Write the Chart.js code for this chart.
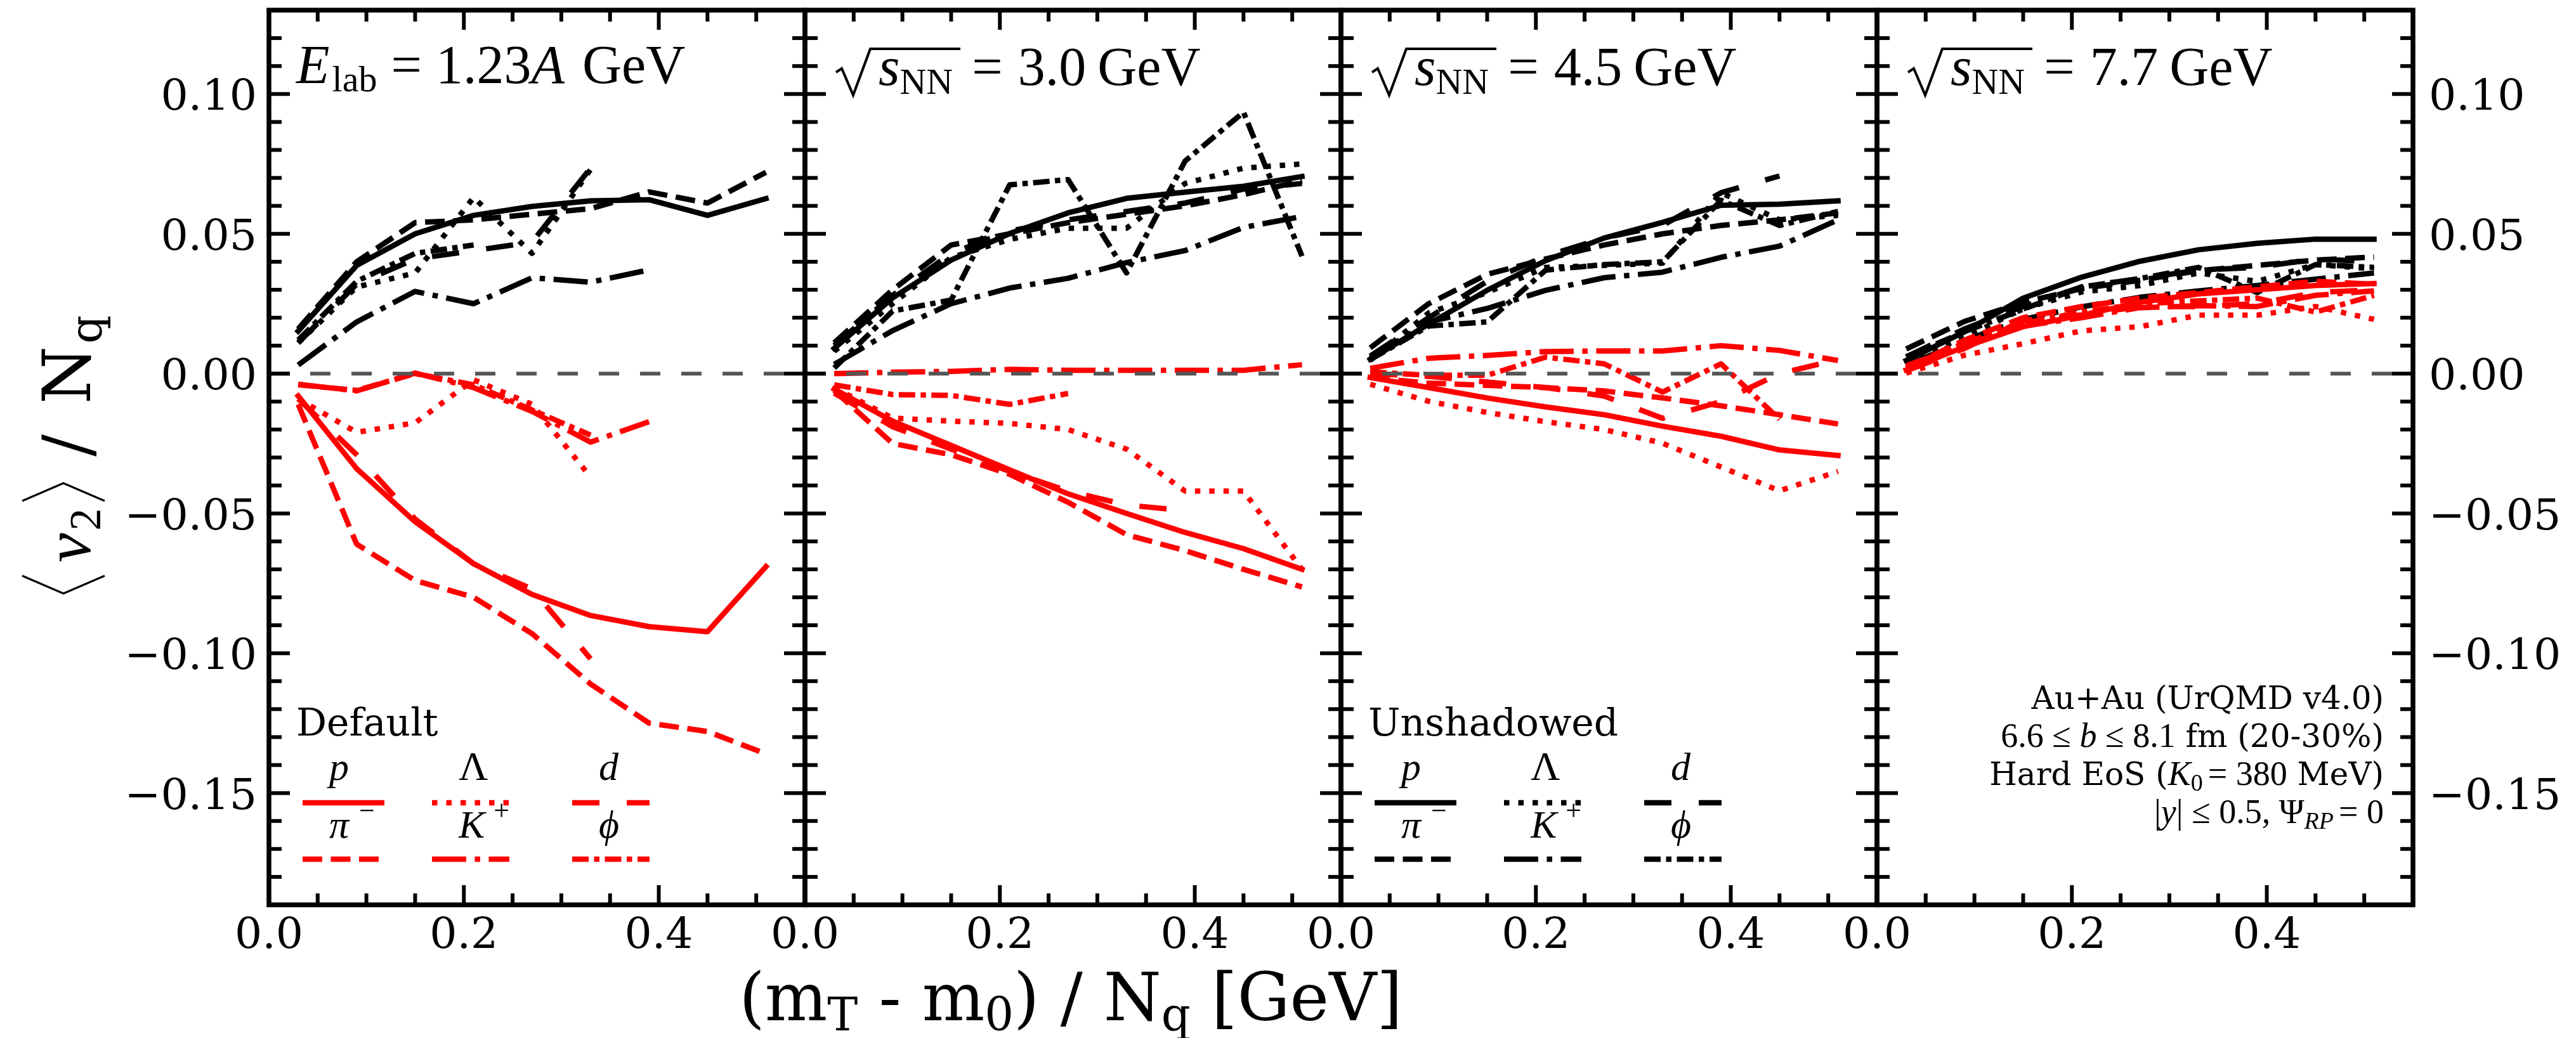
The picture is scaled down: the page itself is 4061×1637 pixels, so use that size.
<!DOCTYPE html>
<html>
<head>
<meta charset="utf-8">
<script src="https://cdn.jsdelivr.net/npm/chart.js@4.4.1/dist/chart.umd.min.js"></script>
<style>
  html, body { margin: 0; padding: 0; background: #fff; }
  #fig { position: relative; width: 4061px; height: 1637px; background: #fff; }
  #fig canvas { position: absolute; left: 0; top: 0; }
</style>
</head>
<body>
<div id="fig">
  <canvas id="c0" width="4061" height="1637"></canvas>
  <canvas id="c1" width="4061" height="1637"></canvas>
  <canvas id="c2" width="4061" height="1637"></canvas>
  <canvas id="c3" width="4061" height="1637"></canvas>
</div>
<script>
// (mT - m0)/Nq bin centres [GeV]
const mtBins = [0.03, 0.09, 0.15, 0.21, 0.27, 0.33, 0.39, 0.45, 0.51];

// order of every block below: p, pi-, Lambda, K+, d, phi
const species = ['p', 'π⁻', 'Λ', 'K⁺', 'd', 'ϕ'];
const energies = ['1.23A', '3.0', '4.5', '7.7'];

// Elab = 1.23A GeV
const def123 = [
  [-0.008, -0.034, -0.053, -0.068, -0.079, -0.0865, -0.0905, -0.0923, -0.069],
  [-0.011, -0.061, -0.074, -0.080, -0.093, -0.111, -0.125, -0.128, -0.136],
  [-0.009, -0.021, -0.0176, -0.0022, -0.011, -0.037],
  [-0.0038, -0.0062, 0.0002, -0.005, -0.0135, -0.0245, -0.0172],
  [-0.009, -0.029, -0.052, -0.068, -0.077, -0.102],
  [-0.004, -0.006, 0.000, -0.004, -0.013, -0.022]
];
const uns123 = [
  [0.0152, 0.0387, 0.050, 0.0566, 0.0598, 0.0618, 0.0622, 0.0566, 0.0626],
  [0.016, 0.040, 0.054, 0.055, 0.057, 0.059, 0.065, 0.061, 0.072],
  [0.011, 0.031, 0.036, 0.063, 0.043, 0.073],
  [0.0031, 0.0185, 0.0294, 0.025, 0.0343, 0.0327, 0.0371],
  [0.011, 0.032, 0.041, 0.044, 0.047, 0.0735],
  [0.012, 0.033, 0.043, 0.046]
];

// sqrt(sNN) = 3.0 GeV
const def30 = [
  [-0.0055, -0.017, -0.0257, -0.0344, -0.043, -0.050, -0.0568, -0.0626, -0.070],
  [-0.006, -0.025, -0.029, -0.036, -0.046, -0.0576, -0.0633, -0.070, -0.0763],
  [-0.005, -0.0159, -0.017, -0.0178, -0.020, -0.027, -0.042, -0.042, -0.070],
  [0.000, 0.0005, 0.0008, 0.0015, 0.0012, 0.0012, 0.0012, 0.0012, 0.0032],
  [-0.007, -0.019, -0.027, -0.035, -0.042, -0.047, -0.049],
  [-0.004, -0.0075, -0.0078, -0.011, -0.0071]
];
const uns30 = [
  [0.009, 0.0271, 0.0406, 0.0501, 0.0575, 0.0627, 0.0649, 0.0670, 0.0705],
  [0.011, 0.030, 0.046, 0.050, 0.054, 0.057, 0.060, 0.064, 0.069],
  [0.008, 0.025, 0.0415, 0.048, 0.052, 0.052, 0.068, 0.0735, 0.075],
  [0.0033, 0.0154, 0.025, 0.0306, 0.0341, 0.0397, 0.044, 0.0523, 0.0562],
  [0.010, 0.028, 0.043, 0.051, 0.055, 0.058, 0.061, 0.066, 0.068],
  [0.002, 0.0224, 0.0263, 0.0675, 0.0694, 0.036, 0.076, 0.0935, 0.042]
];

// sqrt(sNN) = 4.5 GeV
const def45 = [
  [-0.0014, -0.005, -0.0087, -0.0119, -0.0147, -0.0188, -0.0224, -0.0273, -0.0293],
  [-0.0014, -0.0034, -0.0042, -0.005, -0.0062, -0.0087, -0.0115, -0.0147, -0.018],
  [-0.0038, -0.0099, -0.0139, -0.0172, -0.020, -0.0249, -0.0334, -0.0419, -0.035],
  [0.0019, 0.0055, 0.0065, 0.0079, 0.0081, 0.0081, 0.010, 0.0083, 0.0047],
  [0.000, -0.001, -0.003, -0.005, -0.008, -0.016, -0.010, 0.000, 0.005],
  [0.0006, -0.0006, -0.0006, 0.0059, 0.0035, -0.0066, 0.0035, -0.0164]
];
const uns45 = [
  [0.0051, 0.0177, 0.0298, 0.0404, 0.0485, 0.0541, 0.0602, 0.0606, 0.0618],
  [0.0092, 0.025, 0.0355, 0.041, 0.046, 0.050, 0.053, 0.055, 0.0575],
  [0.0047, 0.0217, 0.029, 0.038, 0.0387, 0.0395, 0.0647, 0.055, 0.0566],
  [0.0055, 0.0185, 0.0233, 0.0298, 0.0343, 0.0363, 0.0416, 0.0456, 0.055],
  [0.0063, 0.020, 0.033, 0.042, 0.0485, 0.053, 0.0647, 0.0707],
  [0.005, 0.017, 0.0185, 0.037, 0.039, 0.040, 0.062, 0.053, 0.058]
];

// sqrt(sNN) = 7.7 GeV
const def77 = [
  [0.0013, 0.0096, 0.0168, 0.0209, 0.0255, 0.0285, 0.030, 0.0315, 0.0322],
  [0.002, 0.012, 0.020, 0.024, 0.027, 0.029, 0.031, 0.033, 0.032],
  [0.0002, 0.0066, 0.0107, 0.0153, 0.0168, 0.0209, 0.0209, 0.024, 0.0194],
  [0.0028, 0.0103, 0.017, 0.020, 0.0236, 0.0243, 0.024, 0.028, 0.0296],
  [0.001, 0.009, 0.019, 0.021, 0.024, 0.024, 0.025, 0.029, 0.030],
  [0.002, 0.011, 0.018, 0.022, 0.025, 0.026, 0.027, 0.022, 0.028]
];
const uns77 = [
  [0.0047, 0.015, 0.027, 0.0345, 0.0402, 0.0443, 0.0466, 0.0481, 0.0481],
  [0.0088, 0.0187, 0.0255, 0.0304, 0.0334, 0.0368, 0.0387, 0.0406, 0.0417],
  [0.0045, 0.013, 0.0232, 0.0292, 0.0315, 0.036, 0.033, 0.039, 0.0375],
  [0.0028, 0.0119, 0.0194, 0.0239, 0.0273, 0.0296, 0.0315, 0.0338, 0.036],
  [0.006, 0.016, 0.024, 0.031, 0.034, 0.037, 0.038, 0.041, 0.040],
  [0.006, 0.015, 0.023, 0.031, 0.034, 0.038, 0.029, 0.039, 0.038]
];

const defaultSets = [def123, def30, def45, def77];
const unshadowedSets = [uns123, uns30, uns45, uns77];

const xMajor = [0.0, 0.2, 0.4];
const yMajor = [-0.15, -0.10, -0.05, 0.00, 0.05, 0.10];
const yLabels = ['−0.15', '−0.10', '−0.05', '0.00', '0.05', '0.10'];
const infoLines = ['Au+Au (UrQMD v4.0)', '6.6 ≤ b ≤ 8.1 fm (20-30%)', 'Hard EoS (K0 = 380 MeV)', '|y| ≤ 0.5, ΨRP = 0'];

// ---- layout / style ----
const W = 4061, H = 1637;
const panelLeft = [424, 1269, 2114, 2959];
const PW = 845, TOP = 16, BOTTOM = 1427;
const LW = 8.5;
const RED = '#ff0000', BLACK = '#000000';
const MATH = '"Liberation Serif", serif';
const SERIF = '"DejaVu Serif", serif';
// dash patterns per species, same order as above
const dashes = [[], [31, 13.5], [8.5, 14], [54, 13.5, 8.5, 13.5], [43, 43], [26, 8.5, 8.5, 8.5]];

function lineSet(values, color, dash, order) {
  return {
    data: values.map((v, i) => ({ x: mtBins[i], y: v })),
    borderColor: color,
    backgroundColor: color,
    borderWidth: LW,
    borderDash: dash,
    borderCapStyle: dash.length ? 'butt' : 'square',
    borderJoinStyle: 'round',
    pointRadius: 0,
    fill: false,
    tension: 0,
    order: order
  };
}

function R(t, f, dy, gap) { return { t: t, f: f, dy: dy || 0, gap: gap || 0 }; }

function drawRuns(ctx, runs, x, y, align) {
  let total = 0;
  runs.forEach(r => { ctx.font = r.f; total += ctx.measureText(r.t).width + r.gap; });
  let cx = align === 'right' ? x - total : align === 'center' ? x - total / 2 : x;
  ctx.textAlign = 'left';
  ctx.textBaseline = 'alphabetic';
  runs.forEach(r => {
    ctx.font = r.f;
    ctx.fillText(r.t, cx, y + r.dy);
    cx += ctx.measureText(r.t).width + r.gap;
  });
  return total;
}

function drawFrame(ctx, chart) {
  const a = chart.chartArea, xs = chart.scales.x, ys = chart.scales.y;
  ctx.save();
  ctx.strokeStyle = BLACK;
  ctx.lineCap = 'butt';
  ctx.lineWidth = 6;
  const tick = (x1, y1, x2, y2) => { ctx.beginPath(); ctx.moveTo(x1, y1); ctx.lineTo(x2, y2); ctx.stroke(); };
  for (let i = 1; i <= 10; i++) {
    const v = i * 0.05;
    const major = i % 4 === 0;
    const len = major ? 31 : 18;
    const px = xs.getPixelForValue(v);
    tick(px, a.bottom, px, a.bottom - len);
    tick(px, a.top, px, a.top + len);
  }
  for (let i = -18; i <= 12; i++) {
    const major = i % 5 === 0;
    const len = major ? 33 : 20;
    const py = ys.getPixelForValue(i / 100);
    tick(a.left, py, a.left + len, py);
    tick(a.right, py, a.right - len, py);
  }
  ctx.lineWidth = 7.5;
  ctx.lineJoin = 'miter';
  ctx.strokeRect(a.left, a.top, a.right - a.left, a.bottom - a.top);
  ctx.restore();
}

function drawTickLabels(ctx, chart, idx) {
  const a = chart.chartArea, xs = chart.scales.x, ys = chart.scales.y;
  ctx.save();
  ctx.fillStyle = BLACK;
  ctx.font = `68px ${SERIF}`;
  ctx.textBaseline = 'alphabetic';
  ctx.textAlign = 'center';
  xMajor.forEach(v => ctx.fillText(v.toFixed(1), xs.getPixelForValue(v), 1495));
  if (idx === 0 || idx === 3) {
    ctx.textAlign = idx === 0 ? 'right' : 'left';
    const lx = idx === 0 ? a.left - 19 : a.right + 25;
    yMajor.forEach((v, i) => ctx.fillText(yLabels[i], lx, ys.getPixelForValue(v) + 25));
  }
  ctx.restore();
}

function drawTitle(ctx, idx, L) {
  ctx.save();
  ctx.fillStyle = BLACK;
  const big = 86, small = 58;
  if (idx === 0) {
    drawRuns(ctx, [
      R('E', `italic ${big}px ${MATH}`, 0, 4),
      R('lab', `${small}px ${MATH}`, 13, 22),
      R('=', `${big}px ${MATH}`, 0, 22),
      R('1.23', `${big}px ${MATH}`),
      R('A', `italic ${big}px ${MATH}`, 0, 28),
      R('GeV', `${big}px ${MATH}`)
    ], L + 43, 131, 'left');
  } else {
    const x0 = L + 49, b = 134;
    ctx.strokeStyle = BLACK;
    ctx.lineWidth = 4;
    ctx.lineJoin = 'miter';
    ctx.beginPath();
    ctx.moveTo(x0, b - 20);
    ctx.lineTo(x0 + 9, b - 26);
    ctx.lineTo(x0 + 27, b + 16);
    ctx.lineTo(x0 + 54, b - 57);
    ctx.lineTo(x0 + 196, b - 57);
    ctx.stroke();
    drawRuns(ctx, [
      R('s', `italic ${big}px ${MATH}`),
      R('NN', `${small}px ${MATH}`, 14, 30),
      R('=', `${big}px ${MATH}`, 0, 24),
      R(energies[idx], `${big}px ${MATH}`, 0, 18),
      R('GeV', `${big}px ${MATH}`)
    ], x0 + 67, b, 'left');
  }
  ctx.restore();
}

function legendLabel(k) {
  const it = `italic 62px ${MATH}`, sup = `44px ${MATH}`;
  switch (k) {
    case 0: return [R('p', it)];
    case 1: return [R('π', it, 0, 16), R('−', sup, -28)];
    case 2: return [R('Λ', `64px ${MATH}`)];
    case 3: return [R('K', it, 0, 14), R('+', sup, -28)];
    case 4: return [R('d', it)];
    default: return [R('ϕ', it)];
  }
}

function drawLegend(ctx, L, color, header) {
  ctx.save();
  ctx.fillStyle = BLACK;
  ctx.font = `60px ${SERIF}`;
  ctx.textAlign = 'left';
  ctx.textBaseline = 'alphabetic';
  ctx.fillText(header, L + 43, 1160);
  const cols = [[53, 182], [257, 379], [478, 600]];
  const labelY = [1230, 1321], lineY = [1266, 1355];
  species.forEach((sp, k) => {
    const col = Math.floor(k / 2), row = k % 2;
    const [x1, x2] = cols[col];
    drawRuns(ctx, legendLabel(k), L + x1 + 42, labelY[row], 'left');
    ctx.strokeStyle = color;
    ctx.lineWidth = LW;
    ctx.lineCap = 'butt';
    ctx.setLineDash(dashes[k]);
    ctx.beginPath();
    ctx.moveTo(L + x1, lineY[row]);
    ctx.lineTo(L + x2, lineY[row]);
    ctx.stroke();
    ctx.setLineDash([]);
  });
  ctx.restore();
}

function drawInfo(ctx) {
  const xr = 3758;
  const dv = `50px ${SERIF}`, m = `54px ${MATH}`, mi = `italic 54px ${MATH}`;
  const ms = `38px ${MATH}`, msi = `italic 38px ${MATH}`;
  ctx.save();
  ctx.fillStyle = BLACK;
  drawRuns(ctx, [R(infoLines[0], dv)], xr, 1118, 'right');
  drawRuns(ctx, [R('6.6 ≤ ', m), R('b', mi), R(' ≤ 8.1', m), R(' fm (20-30%)', dv)], xr, 1178, 'right');
  drawRuns(ctx, [R('Hard EoS (', dv), R('K', mi), R('0', ms, 9, 8), R('= 380', m), R(' MeV)', dv)], xr, 1238, 'right');
  drawRuns(ctx, [R('|', m), R('y', mi), R('| ≤ 0.5, Ψ', m), R('RP', msi, 9, 8), R('= 0', m)], xr, 1298, 'right');
  ctx.restore();
}

function drawAxisTitles(ctx) {
  ctx.save();
  ctx.fillStyle = BLACK;
  ctx.strokeStyle = BLACK;
  // x axis title
  drawRuns(ctx, [
    R('(m', `104px ${SERIF}`),
    R('T', `72px ${SERIF}`, 16),
    R(' - m', `104px ${SERIF}`),
    R('0', `72px ${SERIF}`, 16),
    R(') / N', `104px ${SERIF}`),
    R('q', `72px ${SERIF}`, 16),
    R(' [GeV]', `104px ${SERIF}`)
  ], 1688, 1609, 'center');
  // y axis title, written bottom to top
  ctx.translate(142, 940);
  ctx.rotate(-Math.PI / 2);
  ctx.lineWidth = 3;
  ctx.beginPath();
  ctx.moveTo(32, -107); ctx.lineTo(4, -42); ctx.lineTo(32, 23);
  ctx.moveTo(150, -107); ctx.lineTo(178, -42); ctx.lineTo(150, 23);
  ctx.stroke();
  drawRuns(ctx, [R('v', `italic 104px ${MATH}`, 0, 4), R('2', `70px ${MATH}`, 16)], 53, 0, 'left');
  drawRuns(ctx, [R('/', `104px ${SERIF}`, 0, 48), R('N', `104px ${SERIF}`, 0, 4), R('q', `70px ${SERIF}`, 18)], 220, 0, 'left');
  ctx.restore();
}

function makePanel(idx) {
  const L = panelLeft[idx];
  const datasets = [];
  datasets.push({
    data: [{ x: 0, y: 0 }, { x: 0.55, y: 0 }],
    borderColor: '#555555', borderWidth: 6, borderDash: [32, 33],
    borderCapStyle: 'butt', pointRadius: 0, fill: false, order: 0
  });
  species.forEach((sp, k) => {
    datasets.push(lineSet(unshadowedSets[idx][k], BLACK, dashes[k], 2));
    datasets.push(lineSet(defaultSets[idx][k], RED, dashes[k], 1));
  });

  const decor = {
    id: 'decor' + idx,
    afterDraw(chart) {
      const ctx = chart.ctx;
      drawFrame(ctx, chart);
      drawTickLabels(ctx, chart, idx);
      drawTitle(ctx, idx, L);
      if (idx === 0) {
        drawLegend(ctx, L, RED, 'Default');
        drawAxisTitles(ctx);
      }
      if (idx === 2) drawLegend(ctx, L, BLACK, 'Unshadowed');
      if (idx === 3) drawInfo(ctx);
    }
  };

  new Chart(document.getElementById('c' + idx), {
    type: 'line',
    data: { datasets: datasets },
    options: {
      responsive: false,
      animation: false,
      devicePixelRatio: 1,
      events: [],
      layout: { padding: { left: L, right: W - L - PW, top: TOP, bottom: H - BOTTOM } },
      scales: {
        x: { type: 'linear', min: 0, max: 0.55, display: false },
        y: { type: 'linear', min: -0.19, max: 0.13, display: false }
      },
      plugins: { legend: { display: false }, tooltip: { enabled: false } }
    },
    plugins: [decor]
  });
}

[0, 1, 2, 3].forEach(makePanel);
</script>
</body>
</html>
